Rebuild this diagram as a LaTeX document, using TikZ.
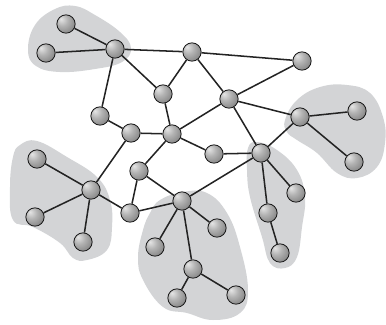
\documentclass[tikz,border=0pt]{standalone}
\usepackage{xcolor}
\definecolor{blobgray}{RGB}{211,212,214}
\definecolor{linkblack}{RGB}{35,35,35}
\pgfdeclareradialshading{nodeball}{\pgfpoint{-14bp}{14bp}}{color(0bp)=(black!10); color(16bp)=(black!30); color(42bp)=(black!55); color(70bp)=(black!85)}

\begin{document}
\begin{tikzpicture}[x=0.03cm, y=-0.03cm, thick,
    vertex/.style={circle, draw=black!90, line width=0.7pt, shading=nodeball, minimum size=0.55cm, inner sep=0pt},
    link/.style={draw=linkblack, line width=1.3pt},
    blob/.style={fill=blobgray}]
    \useasboundingbox (0,0) rectangle (386,324);
    % Shaded groups
    \fill[blob] plot[smooth cycle, tension=0.7] coordinates {(28,50) (35,25) (55,9) (75,6) (95,15) (120,32) (131,48) (122,62) (95,69) (60,72) (36,66)};
    \fill[blob] plot[smooth cycle, tension=0.7] coordinates {(20,145) (37,141) (67,157) (97,177) (110,200) (112,227) (107,250) (87,260) (73,258) (60,243) (33,227) (13,220) (10,187) (13,157)};
    \fill[blob] plot[smooth cycle, tension=0.7] coordinates {(160,200) (183,192) (207,193) (227,213) (240,247) (248,290) (240,313) (213,320) (187,313) (163,307) (143,280) (138,257) (143,230) (150,213)};
    \fill[blob] plot[smooth cycle, tension=0.7] coordinates {(257,142) (277,150) (297,170) (305,197) (302,227) (297,257) (285,268) (270,263) (262,237) (250,197) (247,170) (248,148)};
    \fill[blob] plot[smooth cycle, tension=0.7] coordinates {(285,120) (297,100) (320,87) (347,85) (370,93) (383,117) (385,143) (377,167) (357,178) (337,173) (317,153) (297,140) (287,132)};
    % Vertices
    \foreach \n/\x/\y in {a/115/49, a1/66/24, a2/46/53,
        t/192/52, r/302/61, m/163/94, c/229/99, l/100/116, k/131/133,
        h/172/134, g/214/154, j/139/171, i/130/213,
        b/91/190, b1/37/159, b2/35/217, b3/83/242,
        cc/182/201, c1/155/247, c2/217/228, c3/193/269, c4/177/298, c5/236/295,
        d/261/153, d1/296/193, d2/268/213, d3/280/253,
        e/300/117, e1/357/111, e2/354/162}
        \node[vertex] (\n) at (\x,\y) {};
    % Links
    \foreach \u/\v in {a/a1, a/a2, a/t, a/m, a/l, t/r, t/m, t/c, r/c, c/e, c/h, c/d,
        m/h, l/k, k/h, k/b, h/g, h/j, g/d, j/i, j/cc, i/b, i/cc,
        b/b1, b/b2, b/b3, cc/c1, cc/c2, cc/c3, cc/d, c3/c4, c3/c5,
        d/d1, d/d2, d2/d3, d/e, e/e1, e/e2}
        \draw[link] (\u) -- (\v);
\end{tikzpicture}
\end{document}
